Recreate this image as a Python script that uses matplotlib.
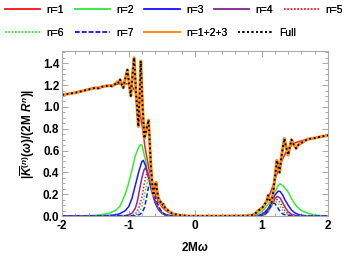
import matplotlib.pyplot as plt
from matplotlib.lines import Line2D
from matplotlib.ticker import MultipleLocator

plt.rcParams['font.family'] = ['Liberation Sans', 'DejaVu Sans']
plt.rcParams['mathtext.fontset'] = 'custom'
plt.rcParams['mathtext.rm'] = 'Liberation Sans:bold'
plt.rcParams['mathtext.it'] = 'Liberation Sans:italic:bold'
plt.rcParams['mathtext.bf'] = 'Liberation Sans:bold'

# Data (x = 2M omega)
n1_x = [-2.0, -1.8, -1.6, -1.4, -1.2, -1.1, -1.0, -0.95, -0.9, -0.85, -0.8, -0.75,
        -0.7, -0.65, -0.6, -0.55, -0.5, -0.45, -0.4, -0.3, -0.2, -0.1, 0.0, 0.5,
        0.8, 0.85, 0.9, 0.95, 1.0, 1.05, 1.1, 1.15, 1.2, 1.25, 1.3, 1.35, 1.4,
        1.45, 1.5, 1.6, 1.7, 1.8, 1.9, 2.0]
n1_y = [1.11, 1.13, 1.16, 1.185, 1.205, 1.215, 1.21, 1.19, 1.14, 1.02, 0.84, 0.62,
        0.45, 0.32, 0.2, 0.13, 0.085, 0.055, 0.035, 0.015, 0.005, 0.0, 0.0, 0.0,
        0.003, 0.008, 0.02, 0.045, 0.075, 0.11, 0.165, 0.24, 0.33, 0.42, 0.5, 0.565,
        0.615, 0.65, 0.67, 0.69, 0.705, 0.715, 0.728, 0.74]

n2_x = [-2.0, -1.7, -1.5, -1.4, -1.3, -1.2, -1.13, -1.05, -1.0, -0.95, -0.9, -0.85,
        -0.82, -0.8, -0.78, -0.75, -0.7, -0.65, -0.6, -0.55, -0.5, -0.45, -0.4,
        -0.3, -0.2, 0.5, 0.85, 0.9, 0.95, 1.0, 1.05, 1.1, 1.15, 1.2, 1.25, 1.28,
        1.32, 1.35, 1.4, 1.45, 1.5, 1.55, 1.6, 1.7, 1.8, 1.9, 2.0]
n2_y = [0.0, 0.002, 0.007, 0.013, 0.025, 0.05, 0.09, 0.2, 0.3, 0.42, 0.55, 0.63,
        0.655, 0.65, 0.6, 0.52, 0.37, 0.23, 0.13, 0.07, 0.035, 0.018, 0.008,
        0.002, 0.0, 0.0, 0.003, 0.008, 0.02, 0.04, 0.07, 0.11, 0.16, 0.22, 0.28, 0.295,
        0.28, 0.26, 0.22, 0.16, 0.11, 0.075, 0.05, 0.025, 0.01, 0.004, 0.001]

n3_x = [-2.0, -1.4, -1.2, -1.13, -1.05, -1.0, -0.95, -0.9, -0.85, -0.8, -0.78,
        -0.75, -0.72, -0.7, -0.65, -0.6, -0.55, -0.5, -0.45, -0.4, -0.3, 0.5,
        0.9, 0.95, 1.0, 1.05, 1.1, 1.15, 1.2, 1.25, 1.28, 1.32, 1.35, 1.4, 1.45,
        1.5, 1.55, 1.6, 1.7, 1.8, 2.0]
n3_y = [0.0, 0.002, 0.01, 0.022, 0.05, 0.085, 0.16, 0.28, 0.4, 0.5, 0.51,
        0.47, 0.4, 0.35, 0.22, 0.12, 0.06, 0.03, 0.013, 0.005, 0.001, 0.0,
        0.002, 0.006, 0.015, 0.035, 0.07, 0.13, 0.19, 0.228, 0.225, 0.19, 0.15, 0.1, 0.055,
        0.03, 0.015, 0.007, 0.002, 0.0, 0.0]

n4_x = [-2.0, -1.2, -1.05, -1.0, -0.95, -0.9, -0.87, -0.83, -0.8, -0.77, -0.75,
        -0.72, -0.7, -0.65, -0.6, -0.55, -0.5, -0.45, -0.4, -0.3, 0.5, 0.95, 1.0,
        1.05, 1.1, 1.15, 1.2, 1.24, 1.28, 1.32, 1.36, 1.4, 1.45, 1.5, 1.6, 1.7, 2.0]
n4_y = [0.0, 0.001, 0.005, 0.012, 0.025, 0.07, 0.13, 0.26, 0.35, 0.42, 0.44,
        0.41, 0.37, 0.24, 0.13, 0.06, 0.025, 0.01, 0.003, 0.0, 0.0, 0.002, 0.006,
        0.018, 0.05, 0.1, 0.16, 0.18, 0.165, 0.12, 0.075, 0.04, 0.017, 0.007, 0.001, 0.0, 0.0]

n5_x = [-2.0, -1.0, -0.93, -0.88, -0.85, -0.8, -0.77, -0.74, -0.72, -0.7, -0.65,
        -0.6, -0.55, -0.5, -0.45, -0.4, -0.3, 0.5, 1.0, 1.05, 1.1, 1.15, 1.19,
        1.22, 1.26, 1.3, 1.35, 1.4, 1.45, 1.5, 1.6, 2.0]
n5_y = [0.0, 0.003, 0.01, 0.03, 0.07, 0.17, 0.28, 0.37, 0.39, 0.37, 0.26,
        0.14, 0.065, 0.025, 0.01, 0.003, 0.0, 0.0, 0.003, 0.012, 0.04, 0.09, 0.14,
        0.155, 0.14, 0.1, 0.05, 0.02, 0.007, 0.002, 0.0, 0.0]

n6_x = [-2.0, -0.95, -0.88, -0.83, -0.8, -0.77, -0.74, -0.71, -0.69, -0.67, -0.63,
        -0.6, -0.55, -0.5, -0.45, -0.4, -0.3, 0.5, 1.0, 1.05, 1.1, 1.15, 1.18,
        1.21, 1.25, 1.3, 1.35, 1.4, 1.45, 1.5, 2.0]
n6_y = [0.0, 0.003, 0.015, 0.045, 0.09, 0.16, 0.26, 0.33, 0.345, 0.33, 0.25,
        0.17, 0.08, 0.03, 0.012, 0.004, 0.0, 0.0, 0.002, 0.01, 0.04, 0.09, 0.125,
        0.135, 0.115, 0.065, 0.03, 0.01, 0.003, 0.0, 0.0]

n7_x = [-2.0, -0.9, -0.83, -0.79, -0.76, -0.73, -0.7, -0.68, -0.66, -0.63, -0.6,
        -0.55, -0.5, -0.45, -0.4, -0.3, 0.5, 1.0, 1.05, 1.1, 1.14, 1.17, 1.2,
        1.24, 1.28, 1.33, 1.4, 1.5, 2.0]
n7_y = [0.0, 0.003, 0.015, 0.04, 0.08, 0.17, 0.27, 0.30, 0.29, 0.24, 0.17,
        0.09, 0.035, 0.013, 0.004, 0.0, 0.0, 0.002, 0.012, 0.05, 0.1, 0.12, 0.115,
        0.08, 0.04, 0.015, 0.003, 0.0, 0.0]

full_x = [-2.0, -1.8, -1.6, -1.5, -1.45, -1.4, -1.3, -1.25, -1.2, -1.17, -1.15,
          -1.128, -1.1, -1.08, -1.05, -1.018, -0.99, -0.967, -0.94, -0.917, -0.89,
          -0.853, -0.835, -0.817, -0.79, -0.763, -0.73, -0.70, -0.68, -0.666,
          -0.645, -0.627, -0.605, -0.587, -0.57, -0.55, -0.52, -0.50, -0.477,
          -0.45, -0.42, -0.4, -0.35, -0.3, -0.2, -0.1, 0.0, 0.5, 0.8, 0.85, 0.9,
          0.95, 1.0, 1.03, 1.05, 1.08, 1.10, 1.12, 1.15, 1.17, 1.2, 1.23, 1.25,
          1.27, 1.3, 1.343, 1.37, 1.40, 1.42, 1.45, 1.48, 1.52, 1.55, 1.57, 1.6,
          1.65, 1.7, 1.8, 1.9, 2.0]
full_y = [1.11, 1.13, 1.16, 1.175, 1.17, 1.185, 1.195, 1.19, 1.21, 1.23, 1.22,
          1.25, 1.2, 1.175, 1.26, 1.34, 1.2, 1.10, 1.3, 1.45, 1.15,
          0.82, 1.1, 1.42, 1.0, 0.71, 0.8, 0.88, 0.65, 0.47,
          0.3, 0.19, 0.28, 0.31, 0.22, 0.16, 0.13, 0.1, 0.11,
          0.07, 0.06, 0.045, 0.025, 0.015, 0.005, 0.0, 0.0, 0.0, 0.003, 0.008, 0.02,
          0.05, 0.07, 0.09, 0.11, 0.14, 0.19, 0.15, 0.12, 0.2, 0.35, 0.51, 0.46,
          0.40, 0.55, 0.71, 0.63, 0.56, 0.62, 0.70, 0.66, 0.62, 0.65, 0.66, 0.67,
          0.69, 0.705, 0.715, 0.728, 0.74]

# n=1+2+3 sits on the Full curve everywhere in the picture
sum123_x = full_x
sum123_y = full_y

x_ticks = [-2, -1, 0, 1, 2]
x_tick_labels = ['-2', '-1', '0', '1', '2']

series = [
    ('n=1', n1_x, n1_y, dict(color='#ff1a1a', lw=1.1, ls='-')),
    ('n=2', n2_x, n2_y, dict(color='#33ee33', lw=1.1, ls='-')),
    ('n=3', n3_x, n3_y, dict(color='#1a1aff', lw=1.1, ls='-')),
    ('n=4', n4_x, n4_y, dict(color='#8b2a9a', lw=1.1, ls='-')),
    ('n=5', n5_x, n5_y, dict(color='#ff1a1a', lw=1.1, ls=(0, (1, 1.2)))),
    ('n=6', n6_x, n6_y, dict(color='#33ee33', lw=1.1, ls=(0, (1, 1.2)))),
    ('n=7', n7_x, n7_y, dict(color='#1a1aff', lw=1.1, ls=(0, (3, 1.5)))),
    ('n=1+2+3', sum123_x, sum123_y, dict(color='#ff8c1a', lw=2.2, ls='-')),
    ('Full', full_x, full_y, dict(color='black', lw=1.35, ls=(0, (1, 1.4)))),
]

fig = plt.figure(figsize=(3.49, 2.60), dpi=100)
ax = fig.add_axes([0.178, 0.169, 0.762, 0.634])

for label, xs, ys, style in series:
    ax.plot(xs, ys, **style)

ax.set_xlim(-2, 2)
ax.set_ylim(0, 1.51)
ax.set_xticks(x_ticks, x_tick_labels)
ax.xaxis.set_minor_locator(MultipleLocator(0.2))
ax.yaxis.set_major_locator(MultipleLocator(0.2))
ax.yaxis.set_minor_locator(MultipleLocator(0.05))
ax.tick_params(which='both', direction='in', top=True, right=True,
               color='#999999', width=0.6)
ax.tick_params(which='major', length=4, labelsize=8.5, pad=2)
ax.tick_params(which='minor', length=2)
ax.tick_params(axis='x', which='major', pad=3)
for lab in ax.get_xticklabels() + ax.get_yticklabels():
    lab.set_fontweight('bold')
for sp in ax.spines.values():
    sp.set_color('#aaaaaa')
    sp.set_linewidth(0.8)

ax.set_xlabel('2M$\\omega$', fontsize=8.5, fontweight='bold', labelpad=6)
ax.set_ylabel(r'$|\overline{K}^{(n)}(\omega)/(2\mathrm{M}\ R^{n})|$',
              fontsize=8.5, labelpad=4)

# two legend rows, as in the reference
handles = [Line2D([], [], **style) for _, _, _, style in series]
handles[7] = Line2D([], [], color='#ff8c1a', lw=1.3)
labels = [s[0] for s in series]
rows = [(0, 5, 10), (5, 9, 33)]
for start, stop, ypx in rows:
    leg = fig.legend(handles[start:stop], labels[start:stop], ncol=stop - start,
                     loc='center left', bbox_to_anchor=(5 / 349, 1 - ypx / 260),
                     frameon=False, fontsize=7.5, handlelength=3.4,
                     handletextpad=0.6, columnspacing=1.0, borderpad=0,
                     borderaxespad=0)
    fig.add_artist(leg)

fig.savefig('out.png', dpi=100)
